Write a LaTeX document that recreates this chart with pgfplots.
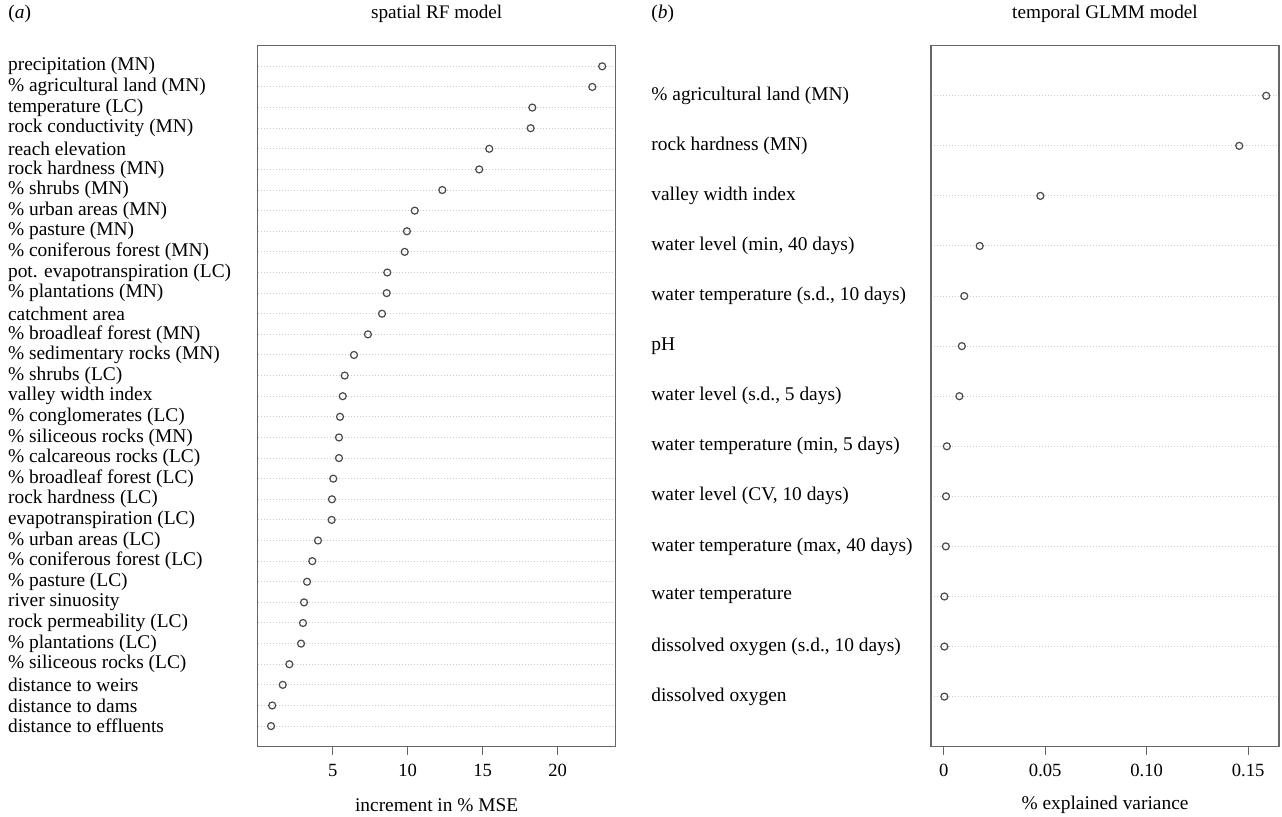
\documentclass[border=0pt]{standalone}
\usepackage{fontspec}
\setmainfont{Liberation Serif}
\usepackage{pgfplots}
\pgfplotsset{compat=1.18}

\definecolor{framegray}{HTML}{666666}
\definecolor{dotgray}{HTML}{4A4A4A}
\definecolor{gridgray}{HTML}{CCCCCC}

% R dotchart look: 1px of the reference = 0.5pt
\pgfplotsset{
  dotchart/.style={
    scale only axis,
    height=350.5pt,
    ymin=0,
    axis line style={framegray, line width=0.6pt},
    tick align=outside,
    xtick pos=bottom,
    major tick length=4pt,
    xtick style={framegray, line width=0.6pt},
    ytick style={draw=none},
    ymajorgrids,
    y grid style={gridgray, line width=0.5pt, dash pattern=on 0.5pt off 1pt},
    tick label style={font=\fontsize{9.3}{11}\selectfont},
    yticklabel style={anchor=west, inner sep=0pt, font=\fontsize{9.7}{11}\selectfont},
    xticklabel style={inner sep=0pt, yshift=-4.6pt},
    xlabel style={at={(axis description cs:0.5,0)}, anchor=center, yshift=-29.15pt,
      font=\fontsize{9.7}{11}\selectfont},
    title style={at={(axis description cs:0.5,1)}, anchor=center, yshift=9.85pt,
      font=\fontsize{9.6}{11}\selectfont},
    clip=false,
  },
  dots/.style={only marks, mark=o, mark size=1.75pt,
    mark options={dotgray, line width=0.6pt}},
}

\begin{document}
\begin{tikzpicture}
\path[use as bounding box] (0,0) rectangle (641pt,408pt);

\node[anchor=west, inner sep=0pt, font=\fontsize{9.7}{11}\selectfont] at (4pt,401pt) {(\textit{a})};
\node[anchor=west, inner sep=0pt, font=\fontsize{9.7}{11}\selectfont] at (325.5pt,401pt) {(\textit{b})};

% (a) spatial RF model
\begin{axis}[dotchart,
  at={(128.85pt,34.65pt)}, anchor=south west,
  width=179pt,
  xmin=0, xmax=23.87, ymax=34,
  xtick={5,10,15,20}, xticklabels={5,10,15,20},
  ytick={1,...,33},
  yticklabel style={xshift=-121pt},
  yticklabels={
    distance to effluents,
    distance to dams,
    distance to weirs,
    \% siliceous rocks (LC),
    \% plantations (LC),
    rock permeability (LC),
    river sinuosity,
    \% pasture (LC),
    \% coniferous forest (LC),
    \% urban areas (LC),
    evapotranspiration (LC),
    rock hardness (LC),
    \% broadleaf forest (LC),
    \% calcareous rocks (LC),
    \% siliceous rocks (MN),
    \% conglomerates (LC),
    valley width index,
    \% shrubs (LC),
    \% sedimentary rocks (MN),
    \% broadleaf forest (MN),
    catchment area,
    \% plantations (MN),
    pot. evapotranspiration (LC),
    \% coniferous forest (MN),
    \% pasture (MN),
    \% urban areas (MN),
    \% shrubs (MN),
    rock hardness (MN),
    reach elevation,
    rock conductivity (MN),
    temperature (LC),
    \% agricultural land (MN),
    precipitation (MN)},
  xlabel={increment in \% MSE},
  title={spatial RF model},
]
\addplot[dots] coordinates {
  (0.89,1) (0.97,2) (1.67,3) (2.11,4) (2.89,5) (3.02,6) (3.09,7) (3.29,8)
  (3.64,9) (4.02,10) (4.93,11) (4.95,12) (5.04,13) (5.42,14) (5.42,15)
  (5.49,16) (5.67,17) (5.80,18) (6.42,19) (7.35,20) (8.29,21) (8.60,22)
  (8.64,23) (9.80,24) (9.95,25) (10.47,26) (12.31,27) (14.77,28) (15.44,29)
  (18.20,30) (18.31,31) (22.31,32) (22.97,33)
};
\end{axis}

% (b) temporal GLMM model
\begin{axis}[dotchart,
  at={(465.5pt,34.65pt)}, anchor=south west,
  width=174pt,
  xmin=-0.0063, xmax=0.1652, ymax=14,
  xtick={0,0.05,0.10,0.15}, xticklabels={0,0.05,0.10,0.15},
  ytick={1,...,13},
  yticklabel style={xshift=-136pt},
  yticklabels={
    dissolved oxygen,
    {dissolved oxygen (s.d., 10 days)},
    water temperature,
    {water temperature (max, 40 days)},
    {water level (CV, 10 days)},
    {water temperature (min, 5 days)},
    {water level (s.d., 5 days)},
    pH,
    {water temperature (s.d., 10 days)},
    {water level (min, 40 days)},
    valley width index,
    rock hardness (MN),
    \% agricultural land (MN)},
  xlabel={\% explained variance},
  title={temporal GLMM model},
]
\addplot[dots] coordinates {
  (0.0003,1) (0.0003,2) (0.0003,3) (0.0010,4) (0.0011,5) (0.0015,6)
  (0.0077,7) (0.0089,8) (0.0101,9) (0.0177,10) (0.0476,11) (0.1456,12)
  (0.1589,13)
};
\end{axis}
\end{tikzpicture}
\end{document}
